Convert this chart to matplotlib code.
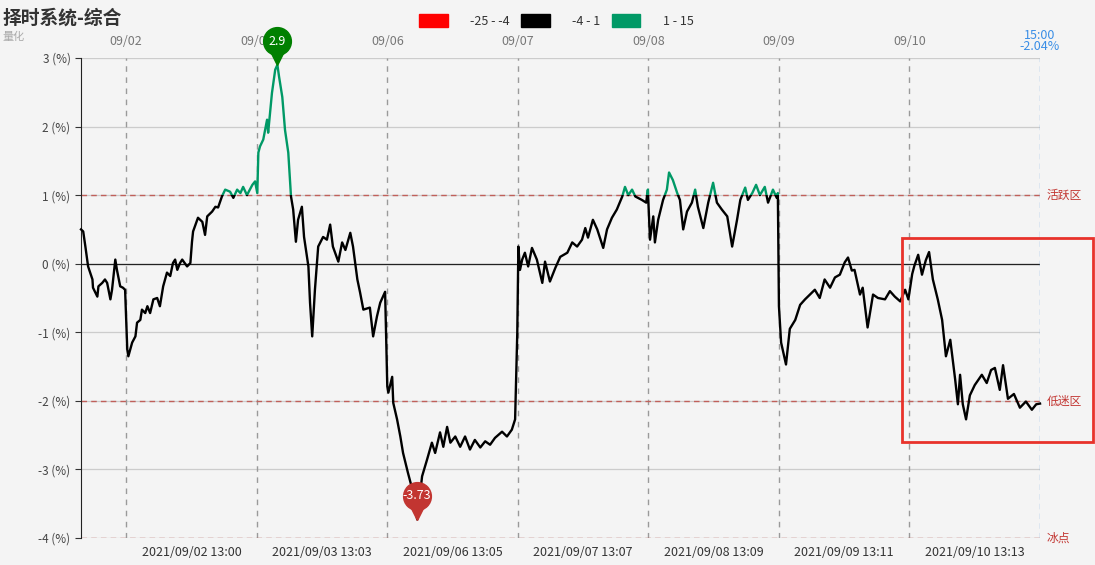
import numpy as np
import matplotlib
matplotlib.use("Agg")
import matplotlib.pyplot as plt
from matplotlib.patches import Patch, Rectangle
from matplotlib.transforms import offset_copy

plt.rcParams['font.family'] = ['Noto Sans CJK SC', 'DejaVu Sans']

# time in trading minutes from the 09/02 open (240 minutes per session)
minutes = [-83, -79, -75, -70, -62, -61, -53, -51, -44, -39, -35, -29, -26, -20, -17, -11, -6, -2,
           2, 4, 11, 17, 20, 26, 29, 35, 39, 44, 50, 57, 62, 68, 75, 81, 86, 90, 94, 99, 103, 112,
           118, 121, 123, 132, 140, 145, 149, 158, 164, 169, 176, 182, 191, 197, 204, 210, 215,
           222, 232, 237, 241, 243, 246, 252, 259, 261, 268, 274, 278, 281, 287, 292, 298, 303,
           307, 312, 316, 323, 327, 335, 338, 342, 347, 353, 362, 369, 375, 380, 390, 397,
           403, 412, 417, 425, 430, 436, 448, 454, 461, 467, 476, 480, 482, 489, 491, 498, 504,
           509, 518, 526, 535, 544, 553, 562, 568, 577, 583, 590, 596, 605, 614, 623, 632, 641,
           651, 660, 669, 678, 691, 700, 709, 715, 719, 721,
           724, 728, 733, 739, 746, 755, 765, 770, 779, 789, 798, 811, 820, 829, 838, 844, 849,
           858, 866, 877, 884, 893, 902, 912, 917, 923, 930, 936, 948, 956, 959, 963, 969, 972,
           978, 987, 994, 998, 1005, 1013, 1018, 1024, 1031, 1040, 1046, 1051, 1061, 1070, 1079,
           1086, 1095, 1105, 1114, 1123, 1129, 1138, 1143, 1151, 1158, 1165, 1174, 1180, 1189,
           1196, 1198, 1200, 1204,
           1213, 1220, 1230, 1239, 1248, 1257, 1266, 1275, 1284, 1294, 1303, 1312, 1321, 1327,
           1334, 1339, 1349, 1354, 1363, 1373, 1382, 1395, 1404, 1413, 1423, 1432, 1438, 1445,
           1449, 1456, 1463, 1470, 1476, 1483, 1492, 1500, 1507, 1515, 1524, 1529, 1533, 1538,
           1544, 1551, 1560, 1573, 1582, 1590, 1597, 1606, 1612, 1621, 1632, 1643, 1654, 1665,
           1673, 1680]

values = [0.50, 0.47, 0.25, -0.04, -0.23, -0.35, -0.48, -0.33, -0.28, -0.23, -0.28, -0.52, -0.38,
          0.06, -0.09, -0.33, -0.35, -0.38,
          -1.25, -1.35, -1.15, -1.06, -0.86, -0.82, -0.67, -0.72, -0.62, -0.72, -0.52, -0.50,
          -0.62, -0.33, -0.13, -0.18, 0.01, 0.06, -0.09, 0.01, 0.06, -0.04,
          0.01, 0.32, 0.47, 0.67, 0.61, 0.42, 0.69, 0.76, 0.83, 0.82, 0.98, 1.08, 1.05, 0.96,
          1.08, 1.03, 1.12, 1.00, 1.15, 1.20, 1.03, 1.62, 1.71, 1.81, 2.10, 1.91, 2.49, 2.83,
          2.90, 2.73, 2.43, 1.95, 1.62, 0.98, 0.79, 0.32, 0.64, 0.83, 0.39, -0.04, -0.57, -1.06,
          -0.38, 0.25, 0.39, 0.35, 0.57, 0.25, 0.03, 0.31,
          0.20, 0.45, 0.25, -0.23, -0.42, -0.67, -0.64, -1.06, -0.77, -0.57, -0.41, -1.79, -1.88,
          -1.65, -2.03, -2.27, -2.52, -2.76, -3.05, -3.29, -3.73, -3.10, -2.86, -2.61, -2.76,
          -2.46, -2.67, -2.38, -2.61, -2.52, -2.67, -2.52, -2.71, -2.57, -2.68, -2.59, -2.64,
          -2.54, -2.45, -2.52, -2.42, -2.27, -1.00, 0.25,
          -0.09, 0.06, 0.16, -0.04, 0.23, 0.06, -0.28, 0.03, -0.26, -0.06, 0.10, 0.16, 0.31,
          0.25, 0.35, 0.52, 0.38, 0.64, 0.50, 0.23, 0.50, 0.67, 0.79, 0.98, 1.12, 1.00, 1.08,
          0.98, 0.93, 0.89, 1.08, 0.35, 0.69, 0.31, 0.64, 0.93, 1.08, 1.33, 1.22, 1.03, 0.93,
          0.50, 0.76, 0.89, 1.08, 0.83, 0.52, 0.89, 1.18, 0.89, 0.79, 0.69, 0.25, 0.64, 0.93,
          1.11, 0.93, 1.03, 1.15, 1.00, 1.12, 0.89, 1.08, 0.96, 1.03, -0.62, -1.15,
          -1.47, -0.95, -0.82, -0.60, -0.52, -0.45, -0.38, -0.50, -0.23, -0.35, -0.20, -0.16,
          0.02, 0.09, -0.10, -0.09, -0.45, -0.35, -0.93, -0.45, -0.50, -0.52, -0.40, -0.48,
          -0.55, -0.38, -0.52, -0.15, -0.03, 0.13, -0.16, 0.05, 0.17, -0.23, -0.52, -0.82,
          -1.35, -1.11, -1.69, -2.05, -1.62, -2.05, -2.27, -1.92, -1.77, -1.62, -1.74, -1.55,
          -1.52, -1.84, -1.48, -1.97, -1.90, -2.10, -2.01, -2.13, -2.05, -2.04]

day_labels = ["09/02", "09/03", "09/06", "09/07", "09/08", "09/09", "09/10"]
session_labels = ["2021/09/02 13:00", "2021/09/03 13:03", "2021/09/06 13:05",
                  "2021/09/07 13:07", "2021/09/08 13:09", "2021/09/09 13:11",
                  "2021/09/10 13:13"]
band_labels = ["-25 - -4", "-4 - 1", "1 - 15"]
band_bounds = [(-25, -4), (-4, 1), (1, 15)]
band_colors = ["#ff0000", "#000000", "#009966"]
zone_levels = [1, -2, -4]
zone_names = ["活跃区", "低迷区", "冰点"]
last_value = -2.04

session_len = 240
t = np.array(minutes)
v = np.array(values)

fig = plt.figure(figsize=(10.95, 5.65), dpi=100)
fig.patch.set_facecolor("#f4f4f4")
ax = fig.add_axes([0.074, 0.0478, 0.8758, 0.8496])
ax.set_facecolor("#f4f4f4")
ax.set_xlim(t[0], 7 * session_len)
ax.set_ylim(-4, 3)

# grid
for y in range(-4, 4):
    ax.axhline(y, color="#cccccc", lw=0.9, zorder=1)
ax.axhline(0, color="#222222", lw=0.9, zorder=2)
for lvl in zone_levels:
    ax.axhline(lvl, color="#c0605a", lw=1.0, ls=(0, (4, 3)), zorder=2)
for k in range(7):
    ax.axvline(k * session_len, color="#9a9a9a", lw=1.0, ls=(0, (4, 4)), zorder=1)
ax.axvline(7 * session_len, color="#7fb0e0", lw=1.0, ls=(0, (4, 3)), zorder=2)

# series, coloured by band
for (lo, hi), c in zip(band_bounds, band_colors):
    line, = ax.plot(t, v, color=c, lw=1.7, zorder=4, solid_joinstyle="round")
    clip = Rectangle((t[0] - 50, lo), 7 * session_len - t[0] + 100, hi - lo,
                     transform=ax.transData)
    line.set_clip_path(clip)

# pins for max / min
def pin(x, y, txt, color):
    tri = offset_copy(ax.transData, fig=fig, x=0, y=5, units="points")
    cir = offset_copy(ax.transData, fig=fig, x=0, y=17, units="points")
    ax.plot([x], [y], marker="v", ms=10, color=color, mec=color, transform=tri,
            zorder=6, clip_on=False)
    ax.plot([x], [y], marker="o", ms=20, color=color, mec=color, transform=cir,
            zorder=6, clip_on=False)
    ax.text(x, y, txt, color="white", fontsize=9, ha="center", va="center",
            transform=cir, zorder=7)

imax = int(np.argmax(v))
imin = int(np.argmin(v))
pin(t[imax], v[imax], f"{v[imax]:g}", "#008000")
pin(t[imin], v[imin], f"{v[imin]:g}", "#c23531")

# axes styling
for s in ["top", "right", "bottom"]:
    ax.spines[s].set_visible(False)
ax.spines["left"].set_color("#222222")
ax.set_yticks(range(-4, 4))
ax.set_yticklabels([f"{y} (%)" for y in range(-4, 4)])
ax.tick_params(axis="y", length=4, color="#333333", labelcolor="#444444", labelsize=8.5)
ax.set_xticks([k * session_len + session_len / 2 for k in range(7)])
ax.set_xticklabels(session_labels)
ax.tick_params(axis="x", length=0, pad=6, labelcolor="#333333", labelsize=9)

top = ax.secondary_xaxis("top")
top.set_xticks([k * session_len for k in range(7)])
top.set_xticklabels(day_labels)
top.tick_params(length=0, pad=7, labelcolor="#777777", labelsize=9)
top.spines["top"].set_visible(False)

for lvl, name in zip(zone_levels, zone_names):
    ax.text(7 * session_len + 12, lvl, name, color="#c23531", fontsize=8.5,
            ha="left", va="center", clip_on=False)

ax.text(7 * session_len, 3.07, f"15:00\n{last_value:.2f}%", color="#3a8ee6",
        fontsize=9, ha="center", va="bottom", linespacing=0.85, clip_on=False)

# highlight box
ax.add_patch(Rectangle((1426, -2.6), 351, 2.98, fill=False, ec="#e8322b", lw=2,
                       clip_on=False, zorder=8))

# title and legend
fig.text(0.002, 0.985, "择时系统-综合", fontsize=13.5, fontweight="bold", color="#333333",
         ha="left", va="top")
fig.text(0.002, 0.934, "量化", fontsize=8, color="#aaaaaa", ha="left", va="center")
handles = [Patch(facecolor=c, edgecolor=c) for c in band_colors]
fig.legend(handles, band_labels, loc="upper center", bbox_to_anchor=(0.508, 0.995),
           ncol=3, frameon=False, fontsize=9, handlelength=2.3, handleheight=1.2,
           handletextpad=1.8, columnspacing=0.9, labelcolor="#333333")

fig.savefig("out.png", dpi=100, facecolor=fig.get_facecolor())
